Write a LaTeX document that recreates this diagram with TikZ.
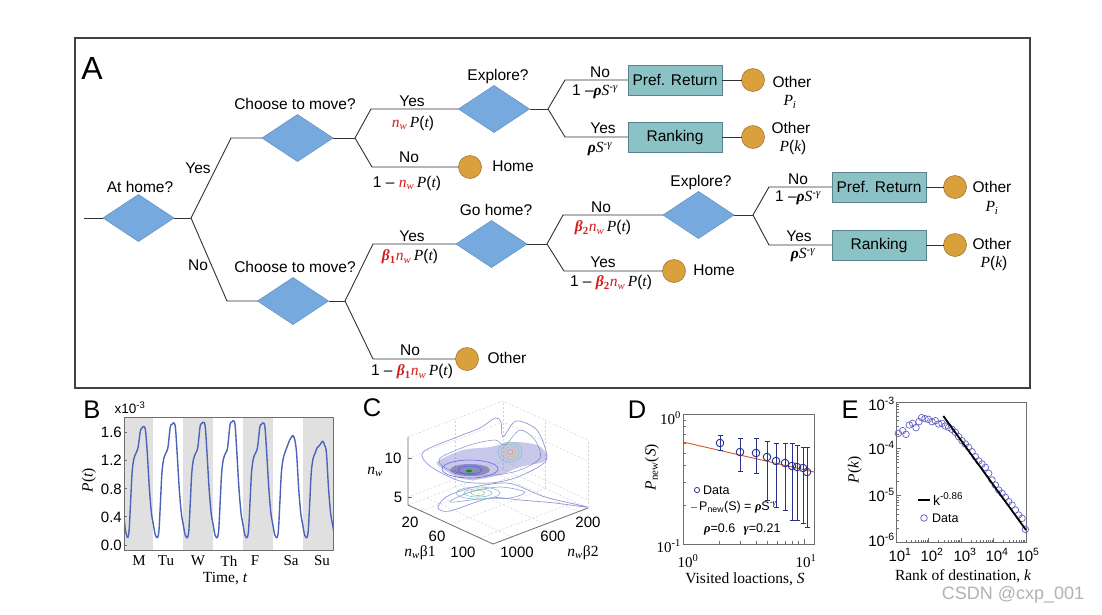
\documentclass[tikz,border=0pt]{standalone}
\usepackage{fontspec}
\setmainfont{Liberation Sans}
\newfontfamily\tms{Liberation Serif}
\usetikzlibrary{shapes.geometric}
\definecolor{diafill}{RGB}{118,170,222}
\definecolor{diaedge}{RGB}{95,140,190}
\definecolor{circfill}{RGB}{217,160,60}
\definecolor{circedge}{RGB}{150,110,40}
\definecolor{boxfill}{RGB}{138,194,198}
\definecolor{boxedge}{RGB}{90,130,140}
\definecolor{nwred}{RGB}{210,30,30}
\definecolor{lncol}{RGB}{50,50,50}
\definecolor{bandgray}{RGB}{224,224,224}
\definecolor{curveblue}{RGB}{75,100,185}
\definecolor{dblue}{RGB}{40,50,140}
\definecolor{fitorange}{RGB}{215,85,40}
\definecolor{eblue}{RGB}{100,100,200}
\definecolor{gridgray}{RGB}{210,210,210}
\definecolor{axgray}{RGB}{110,110,110}
\definecolor{lav}{RGB}{150,150,215}
\definecolor{cyanc}{RGB}{130,190,220}
\definecolor{greenc}{RGB}{140,200,150}
\definecolor{orangec}{RGB}{225,175,120}
\definecolor{purplef}{RGB}{100,100,200}
\newcommand{\myi}[1]{{\tms\itshape #1}}
\newcommand{\mynw}{\textcolor{nwred}{\myi{n}\textsubscript{\myi{w}}}}
\newcommand{\myPt}{\myi{P}(\myi{t})}
\newcommand{\mybeta}[1]{\textcolor{nwred}{{\tms\bfseries\itshape β}\textsubscript{\tms\bfseries #1}}}
\newcommand{\myrhoS}{{\tms\bfseries\itshape ρ}\myi{S}\textsuperscript{-\myi{γ}}}
\begin{document}
\begin{tikzpicture}[x=1pt,y=-1pt,
 ln/.style={draw=lncol, line width=0.9pt},
 dia/.style={diamond, draw=diaedge, line width=0.5pt, fill=diafill, minimum width=71pt, minimum height=47pt, inner sep=0pt, outer sep=0pt},
 circ/.style={circle, draw=circedge, line width=0.5pt, fill=circfill, minimum size=23pt, inner sep=0pt, outer sep=0pt},
 boxn/.style={rectangle, draw=boxedge, line width=0.8pt, fill=boxfill, minimum width=94pt, minimum height=30pt, inner sep=0pt, outer sep=0pt, font=\fontsize{15.5}{18}\selectfont},
 lbl/.style={inner sep=0pt, font=\fontsize{15.5}{18}\selectfont},
 panel/.style={inner sep=0pt, font=\fontsize{25.5}{28}\selectfont},
 tick/.style={inner sep=0pt, font=\fontsize{15}{17}\selectfont},
 stick/.style={inner sep=0pt, font=\tms\fontsize{15}{17}\selectfont},
 axlbl/.style={inner sep=0pt, font=\tms\fontsize{15.5}{18}\selectfont},
 leg/.style={inner sep=0pt, font=\fontsize{12.5}{14}\selectfont},
 gridl/.style={draw=gridgray, line width=0.5pt, dash pattern=on 2pt off 2pt},
 frm/.style={draw=axgray, line width=0.8pt}
]
\useasboundingbox (0,0) rectangle (1102,614);
\fill[white] (0,0) rectangle (1102,614);

% ================= Panel A =================
\draw[draw=black!75, line width=1.2pt] (75,38) rectangle (1030,388);
\node[inner sep=0pt, font=\fontsize{32}{34}\selectfont] (pA) at (92,68) {A};

\coordinate (s0) at (84,218);
\node[dia] (d0) at (138.5,218) {};
\coordinate (j0) at (191,218);
\coordinate (e0u) at (231,138);
\coordinate (e0d) at (227,301);
\node[dia] (d1) at (297.5,138) {};
\node[dia] (d2) at (293,301) {};
\coordinate (j1) at (355,138);
\coordinate (e1u) at (371,109);
\coordinate (e1d) at (372,167);
\node[dia] (d3) at (494,109) {};
\node[circ] (c1) at (470,167) {};
\coordinate (j2) at (345,301);
\coordinate (e2u) at (373,244);
\coordinate (e2d) at (373,359);
\node[dia] (d4) at (491.5,244) {};
\node[circ] (c2) at (467,359) {};
\coordinate (j3) at (548,109);
\coordinate (e3u) at (565,80);
\coordinate (e3d) at (565,137);
\node[boxn] (b1) at (675,80) {Pref. Return};
\node[boxn] (b2) at (675,137) {Ranking};
\node[circ] (c3) at (753,80) {};
\node[circ] (c4) at (753,137) {};
\coordinate (j4) at (547,244);
\coordinate (e4u) at (563,215);
\coordinate (e4d) at (564,271);
\node[dia] (d5) at (698.5,215) {};
\node[circ] (c5) at (674,271) {};
\coordinate (j5) at (753,215);
\coordinate (e5u) at (769,187);
\coordinate (e5d) at (769,245);
\node[boxn] (b3) at (879,187) {Pref. Return};
\node[boxn] (b4) at (879,245) {Ranking};
\node[circ] (c6) at (955,187) {};
\node[circ] (c7) at (955,245) {};

\draw[ln] (s0) -- (d0.west);
\draw[ln] (d0.east) -- (j0);
\draw[ln] (j0) -- (e0u) -- (d1.west);
\draw[ln] (j0) -- (e0d) -- (d2.west);
\draw[ln] (d1.east) -- (j1);
\draw[ln] (j1) -- (e1u) -- (d3.west);
\draw[ln] (j1) -- (e1d) -- (c1.west);
\draw[ln] (d2.east) -- (j2);
\draw[ln] (j2) -- (e2u) -- (d4.west);
\draw[ln] (j2) -- (e2d) -- (c2.west);
\draw[ln] (d3.east) -- (j3);
\draw[ln] (j3) -- (e3u) -- (b1.west);
\draw[ln] (j3) -- (e3d) -- (b2.west);
\draw[ln] (b1.east) -- (c3.west);
\draw[ln] (b2.east) -- (c4.west);
\draw[ln] (d4.east) -- (j4);
\draw[ln] (j4) -- (e4u) -- (d5.west);
\draw[ln] (j4) -- (e4d) -- (c5.west);
\draw[ln] (d5.east) -- (j5);
\draw[ln] (j5) -- (e5u) -- (b3.west);
\draw[ln] (j5) -- (e5d) -- (b4.west);
\draw[ln] (b3.east) -- (c6.west);
\draw[ln] (b4.east) -- (c7.west);

\node[lbl] (l1) at (140,187) {At home?};
\node[lbl] (l2) at (198,168) {Yes};
\node[lbl] (l3) at (198,265) {No};
\node[lbl] (l4) at (295,104) {Choose to move?};
\node[lbl] (l5) at (295,267) {Choose to move?};
\node[lbl] (l6) at (412,101) {Yes};
\node[lbl] (l7) at (413,123) {\mynw\,\myPt};
\node[lbl] (l8) at (409,157) {No};
\node[lbl] (l9) at (407,183) {1 -- \mynw\,\myPt};
\node[lbl] (l10) at (513,166) {Home};
\node[lbl] (l11) at (498,76) {Explore?};
\node[lbl] (l12) at (412,236) {Yes};
\node[lbl] (l13) at (410,257) {\mybeta{1}\mynw\,\myPt};
\node[lbl] (l14) at (410,350) {No};
\node[lbl] (l15) at (412,372) {1 -- \mybeta{1}\mynw\,\myPt};
\node[lbl] (l16) at (507,358) {Other};
\node[lbl] (l17) at (496,210) {Go home?};
\node[lbl] (l18) at (600,72) {No};
\node[lbl] (l19) at (595,92) {1 --\myrhoS};
\node[lbl] (l20) at (603,128) {Yes};
\node[lbl] (l21) at (600,149) {\myrhoS};
\node[lbl] (l22) at (792,82) {Other};
\node[lbl] (l23) at (790,102) {\myi{P}\textsubscript{\myi{i}}};
\node[lbl] (l24) at (791,128) {Other};
\node[lbl] (l25) at (793,147) {\myi{P}(\myi{k})};
\node[lbl] (l26) at (601,207) {No};
\node[lbl] (l27) at (603,228) {\mybeta{2}\mynw\,\myPt};
\node[lbl] (l28) at (603,262) {Yes};
\node[lbl] (l29) at (611,283) {1 -- \mybeta{2}\mynw\,\myPt};
\node[lbl] (l30) at (714,270) {Home};
\node[lbl] (l31) at (701,182) {Explore?};
\node[lbl] (l32) at (798,179) {No};
\node[lbl] (l33) at (798,198) {1 --\myrhoS};
\node[lbl] (l34) at (799,236) {Yes};
\node[lbl] (l35) at (803,255) {\myrhoS};
\node[lbl] (l36) at (992,187) {Other};
\node[lbl] (l37) at (992,208) {\myi{P}\textsubscript{\myi{i}}};
\node[lbl] (l38) at (992,244) {Other};
\node[lbl] (l39) at (994,263) {\myi{P}(\myi{k})};

% ================= Panel B =================
\node[panel] (pB) at (92,410) {B};
\foreach \xa/\xb in {124/153,183/213,243/273,303/333}{
  \fill[bandgray] (\xa,417) rectangle (\xb,550);
}
\begin{scope}
\clip (124,417) rectangle (333,550);
\begin{scope}[shift={(124,545)}, x=29.86pt, y=70.6pt]
 \draw[curveblue, line width=1.4pt] plot[smooth] coordinates {(0,0.4) (0.05,0.2) (0.12,0.10)};
 \foreach \d/\pk/\pa/\pb in {0/1.68/1.30/1.38,1/1.73/1.30/1.38,2/1.74/1.30/1.38,3/1.76/1.30/1.38,4/1.73/1.30/1.38,5/1.55/1.32/1.40,6/1.47/1.30/1.38}{
   \draw[curveblue, line width=1.4pt, line join=round] plot[smooth, tension=0.55] coordinates {
     (\d+0.12,0.10) (\d+0.17,0.20) (\d+0.22,0.6) (\d+0.27,1.02) (\d+0.33,1.22)
     (\d+0.40,\pa) (\d+0.47,\pb) (\d+0.55,\pk-0.06) (\d+0.61,\pk-0.02) (\d+0.66,\pk)
     (\d+0.72,\pk-0.06) (\d+0.78,1.3) (\d+0.85,0.8) (\d+0.92,0.45) (\d+0.98,0.3)
     (\d+1.05,0.14) (\d+1.12,0.10)};
 }
\end{scope}
\end{scope}
\draw[frm] (124,417) rectangle (333,550);
\foreach \v in {0.0,0.4,0.8,1.2,1.6}{
  \draw[frm] (124,{545-\v*70.6}) -- ++(3,0);
}
\node[tick, anchor=east] (bt0) at (122,545) {0.0};
\node[tick, anchor=east] (bt1) at (122,517) {0.4};
\node[tick, anchor=east] (bt2) at (122,489) {0.8};
\node[tick, anchor=east] (bt3) at (122,460) {1.2};
\node[tick, anchor=east] (bt4) at (122,432) {1.6};
\node[inner sep=0pt, font=\fontsize{13.5}{15}\selectfont] (bx) at (130,408) {x10\textsuperscript{-3}};
\node[stick] (bd1) at (139,561) {M};
\node[stick] (bd2) at (166,561) {Tu};
\node[stick] (bd3) at (198,561) {W};
\node[stick] (bd4) at (229,561) {Th};
\node[stick] (bd5) at (255,561) {F};
\node[stick] (bd6) at (291,561) {Sa};
\node[stick] (bd7) at (322,561) {Su};
\node[axlbl] (bxl) at (225,579) {Time, \myi{t}};
\node[axlbl, rotate=90] (byl) at (89,480) {\myi{P}(\myi{t})};

% ================= Panel C =================
\node[panel] (pC) at (372,408) {C};
% grid
\draw[gridl] (408,437) -- (503,401) -- (588,440);
\draw[gridl] (408,458) -- (503,422) -- (588,461);
\draw[gridl] (408,497) -- (503,461) -- (588,500);
\draw[gridl] (408,505) -- (503,469) -- (588,508);
\draw[gridl] (503,469) -- (503,401);
\draw[gridl] (455,487) -- (455,419);
\draw[gridl] (545,488) -- (545,420);
\draw[gridl] (588,508) -- (588,440);
\draw[gridl] (421,511) -- ++(95,-36);
\draw[gridl] (450.5,524.5) -- ++(95,-36);
\draw[gridl] (480,538) -- ++(95,-36);
\draw[gridl] (512,537) -- ++(-85,-39);
\draw[gridl] (545,524) -- ++(-85,-39);
\draw[gridl] (578.5,511.6) -- ++(-85,-39);
% axes
\draw[draw=axgray, line width=0.8pt] (408,437) -- (408,505) -- (493,544) -- (588,508);
\draw[draw=axgray, line width=0.6pt] (408,458) -- ++(4,0) (408,497) -- ++(4,0);
% lower layer contours
\draw[lav, line width=0.7pt] plot[smooth cycle, tension=0.5] coordinates {(438,508) (446,497) (470,488) (500,483) (516,485) (545,497) (587,507) (555,503) (520,500) (490,498) (450,511)};
\draw[lav!80!cyanc, line width=0.6pt] plot[smooth cycle] coordinates {(450,502) (470,492) (500,487) (525,492) (510,498) (480,499)};
\draw[cyanc, line width=0.6pt] (478,493) ellipse[x radius=22pt, y radius=6pt];
\draw[cyanc!60!greenc, line width=0.6pt] (478,493) ellipse[x radius=14pt, y radius=4pt];
\draw[greenc, line width=0.6pt] (478,493) ellipse[x radius=7pt, y radius=2.5pt];
% upper layer contours
\draw[lav, line width=0.7pt] plot[smooth cycle, tension=0.5] coordinates {(423,452) (457,437) (480,428) (495,418) (501,422) (503,437) (516,421) (537,430) (547,456) (540,466) (515,478) (490,483) (460,481) (430,466)};
\draw[lav!80!cyanc, line width=0.6pt] plot[smooth cycle, tension=0.5] coordinates {(440,458) (470,445) (495,440) (505,445) (520,430) (535,440) (540,458) (520,470) (495,475) (465,474) (445,468)};
\fill[purplef, opacity=0.35] plot[smooth cycle, tension=0.5] coordinates {(438,461) (463,450) (490,447) (513,442) (537,445) (547,455) (543,462) (520,467) (500,475) (473,480) (457,477) (440,467)};
\draw[cyanc, line width=0.6pt] (510,452) ellipse[x radius=12pt, y radius=10pt];
\draw[greenc, line width=0.6pt] (510,452) ellipse[x radius=9pt, y radius=7.5pt];
\draw[orangec, line width=0.6pt] (510,452) ellipse[x radius=6pt, y radius=5pt];
\draw[orangec!80!red, line width=0.6pt] (510,452) ellipse[x radius=3pt, y radius=2.5pt];
\draw[lav!70!blue, line width=0.6pt] (470,469) ellipse[x radius=28pt, y radius=9pt];
\fill[purplef!70!black, opacity=0.45] (470,470) ellipse[x radius=20pt, y radius=6pt];
\draw[lav!60!blue, line width=0.6pt] (470,470) ellipse[x radius=12pt, y radius=4pt];
\fill[green!60!black] (469,471) ellipse[x radius=3pt, y radius=1.5pt];
% tick labels
\node[tick] (ct1) at (393,458) {10};
\node[tick] (ct2) at (398,497) {5};
\node[tick] (ct3) at (410,522) {20};
\node[tick] (ct4) at (437,536) {60};
\node[tick] (ct5) at (463,552) {100};
\node[tick] (ct6) at (517,552) {1000};
\node[tick] (ct7) at (553,536) {600};
\node[tick] (ct8) at (588,522) {200};
\node[axlbl] (cyl) at (375,472) {\myi{n}\textsubscript{\myi{w}}};
\node[axlbl] (cxl1) at (420,553) {\myi{n}\textsubscript{\myi{w}}β1};
\node[axlbl] (cxl2) at (583,553) {\myi{n}\textsubscript{\myi{w}}β2};

% ================= Panel D =================
\node[panel] (pD) at (637,410) {D};
\draw[frm] (683,414) rectangle (814,544);
\foreach \p in {2,...,9}{
  \draw[frm, line width=0.5pt] (683,{414-130*log10(\p/10)}) -- ++(3,0);
  \draw[frm, line width=0.5pt] ({683+121*log10(\p)},544) -- ++(0,-3);
}
\draw[frm] (804,544) -- ++(0,-5);
\draw[fitorange, line width=0.9pt] (683,442) -- (814,472);
\foreach \x/\y/\lo/\hi in {720/443/435/450,740/452/438/471,756/453/438/473,767/457/441/500,776/461/443/507,785/463/443/510,792/466/443/520,797/467/445/520,803/468/447/523,807/472/447/527}{
  \draw[dblue, line width=0.9pt] (\x,\lo) -- (\x,\hi) (\x-2.5,\lo) -- (\x+2.5,\lo) (\x-2.5,\hi) -- (\x+2.5,\hi);
  \draw[dblue, line width=0.9pt] (\x,\y) circle[radius=3.8pt];
}
\draw[dblue, line width=0.8pt] (697,490) circle[radius=2.6pt];
\node[leg, anchor=west] (dl1) at (703,490) {Data};
\draw[fitorange, line width=0.9pt] (691,507) -- (697,507);
\node[leg, anchor=west] (dl2) at (699,507) {P\textsubscript{new}(S) = {\tms\bfseries\itshape ρ}S\textsuperscript{-{\tms\itshape γ}}};
\node[leg, anchor=west] (dl3) at (704,529) {{\tms\bfseries\itshape ρ}=0.6\enspace\,{\tms\bfseries\itshape γ}=0.21};
\node[stick, anchor=east] (dt1) at (681,418) {10\textsuperscript{0}};
\node[stick, anchor=east] (dt2) at (681,546) {10\textsuperscript{-1}};
\node[stick] (dt3) at (688,561) {10\textsuperscript{0}};
\node[stick] (dt4) at (806,561) {10\textsuperscript{1}};
\node[axlbl] (dxl) at (745,579) {Visited loactions, \myi{S}};
\node[axlbl, rotate=90] (dyl) at (652,467) {\myi{P}\textsubscript{new}(\myi{S})};

% ================= Panel E =================
\node[panel] (pE) at (850,410) {E};
\draw[frm] (896,402) rectangle (1026,542);
\foreach \n in {0,...,3}{
  \foreach \m in {2,...,9}{
    \draw[frm, line width=0.5pt] ({896+32.5*(\n+log10(\m))},542) -- ++(0,-2.5);
  }
}
\foreach \n in {1,2,3}{
  \draw[frm] ({896+32.5*\n},542) -- ++(0,-4.5);
  \draw[frm] (896,{402+46.67*\n}) -- ++(4.5,0);
}
\foreach \n in {0,1,2}{
  \foreach \m in {2,...,9}{
    \draw[frm, line width=0.5pt] (896,{402+46.67*(\n+1-log10(\m))}) -- ++(2.5,0);
  }
}
\begin{scope}[shift={(830,390)}, x=0.33333pt, y=-0.33333pt]
 \foreach \a/\b in {205/130,218/122,228/133,238/105,248/100,258/113,267/95,275/83,285/86,295/88,306/95,316/92,326/102,336/100,346/108,356/112,366/118,376/127,386/140,396/152,406/162,416/172,426/185,436/200,446/213,456/222,466/232,476/250,486/270,496/285,506/300,516/310,526/322,536/335,546/345,556/360,566/375,576/385,586/418}{
   \draw[eblue, line width=0.7pt] (\a,\b) circle[radius=3.3pt];
 }
 \coordinate (ef1) at (340,78);
 \coordinate (ef2) at (588,420);
 \draw[black, line width=1.8pt] (ef1) -- (ef2);
\end{scope}
\draw[black, line width=1.8pt] (918,500) -- (930,500);
\node[inner sep=0pt, font=\fontsize{14}{16}\selectfont, anchor=west] (el1) at (933,499) {k\textsuperscript{-0.86}};
\draw[eblue, line width=0.8pt] (924,518) circle[radius=3.3pt];
\node[leg, anchor=west] (el2) at (932,518) {Data};
\node[tick, anchor=east] (et1) at (895,404) {10\textsuperscript{-3}};
\node[tick, anchor=east] (et2) at (895,448) {10\textsuperscript{-4}};
\node[tick, anchor=east] (et3) at (895,495) {10\textsuperscript{-5}};
\node[tick, anchor=east] (et4) at (895,540) {10\textsuperscript{-6}};
\node[tick] (ex1) at (900,555) {10\textsuperscript{1}};
\node[tick] (ex2) at (932,555) {10\textsuperscript{2}};
\node[tick] (ex3) at (965,555) {10\textsuperscript{3}};
\node[tick] (ex4) at (997,555) {10\textsuperscript{4}};
\node[tick] (ex5) at (1028,555) {10\textsuperscript{5}};
\node[axlbl] (exl) at (963,576) {Rank of destination, \myi{k}};
\node[axlbl, rotate=90] (eyl) at (855,470) {\myi{P}(\myi{k})};

% watermark
\node[inner sep=0pt, text=black!30, font=\fontsize{18}{20}\selectfont] (wm) at (1013,595) {CSDN @cxp\_001};
\end{tikzpicture}
\end{document}
